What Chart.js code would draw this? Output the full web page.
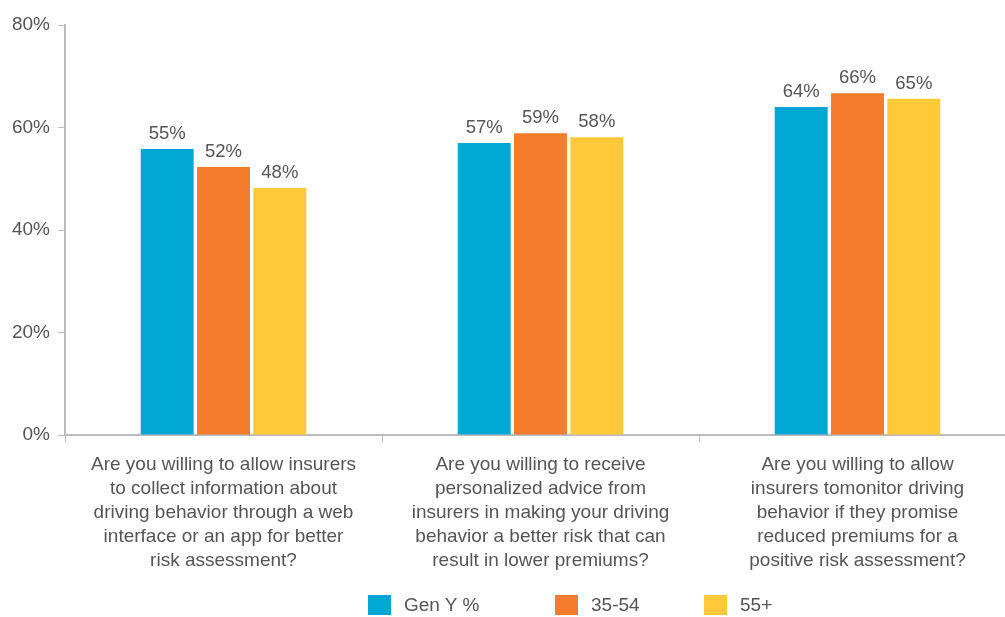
<!DOCTYPE html>
<html>
<head>
<meta charset="utf-8">
<script src="https://cdn.jsdelivr.net/npm/chart.js@4"></script>
<style>
  html, body { margin: 0; padding: 0; background: #fff; overflow: hidden; width: 1005px; height: 617px; }
  #wrap { position: absolute; left: 0; top: 0; width: 1020px; height: 617px; }
  #legend { position: absolute; top: 594px; left: 0; width: 1005px; height: 26px; font-family: "Liberation Sans", Arial, sans-serif; font-size: 19px; color: #555; }
  .item { position: absolute; top: 0; display: flex; align-items: center; }
  .sw { width: 23px; height: 20px; margin-right: 13px; }
</style>
</head>
<body>
<div id="wrap"><canvas id="c"></canvas></div>
<div id="legend"></div>
<script>
const categories = [
  ["Are you willing to allow insurers", "to collect information about", "driving behavior through a web", "interface or an app for better", "risk assessment?"],
  ["Are you willing to receive", "personalized advice from", "insurers in making your driving", "behavior a better risk that can", "result in lower premiums?"],
  ["Are you willing to allow", "insurers tomonitor driving", "behavior if they promise", "reduced premiums for a", "positive risk assessment?"]
];
const seriesNames = ["Gen Y %", "35-54", "55+"];
const genY = [55.8, 57.0, 64.0];
const age35to54 = [52.3, 58.9, 66.7];
const age55plus = [48.2, 58.1, 65.6];
const genYLabels = ["55%", "57%", "64%"];
const age35to54Labels = ["52%", "59%", "66%"];
const age55plusLabels = ["48%", "58%", "65%"];
const yTicks = [0, 20, 40, 60, 80];
const colors = ["#00A7D4", "#F47C2C", "#FFC93A"];

const valueLabels = [genYLabels, age35to54Labels, age55plusLabels];
const FONT = '"Liberation Sans", Arial, sans-serif';

const labelPlugin = {
  id: 'valueLabels',
  afterDatasetsDraw(chart) {
    const ctx = chart.ctx;
    ctx.save();
    ctx.font = '18.5px ' + FONT;
    ctx.fillStyle = '#555';
    ctx.textAlign = 'center';
    ctx.textBaseline = 'bottom';
    chart.data.datasets.forEach((ds, i) => {
      const meta = chart.getDatasetMeta(i);
      meta.data.forEach((bar, j) => {
        ctx.fillText(valueLabels[i][j], bar.x, bar.y - 6);
      });
    });
    ctx.restore();
  }
};

new Chart(document.getElementById('c'), {
  type: 'bar',
  data: {
    labels: categories,
    datasets: [
      { label: seriesNames[0], data: genY, backgroundColor: colors[0] },
      { label: seriesNames[1], data: age35to54, backgroundColor: colors[1] },
      { label: seriesNames[2], data: age55plus, backgroundColor: colors[2] }
    ]
  },
  options: {
    responsive: true,
    maintainAspectRatio: false,
    animation: false,
    layout: { padding: { top: 25, right: 4, left: 0, bottom: 0 } },
    datasets: { bar: { categoryPercentage: 0.533, barPercentage: 0.94 } },
    plugins: { legend: { display: false }, tooltip: { enabled: false } },
    scales: {
      x: {
        grid: { display: true, drawOnChartArea: false, drawTicks: true, tickLength: 7, color: '#bbb', offset: true },
        border: { display: true, color: '#bbb', width: 2 },
        ticks: { color: '#555', font: { family: FONT, size: 19, lineHeight: 1.263 }, padding: 11, maxRotation: 0, autoSkip: false },
        afterFit(scale) { scale.height = 182; }
      },
      y: {
        min: 0, max: 80,
        afterBuildTicks(scale) { scale.ticks = yTicks.map(v => ({ value: v })); },
        grid: { display: true, drawOnChartArea: false, drawTicks: true, tickLength: 7, color: '#bbb' },
        border: { display: true, color: '#bbb', width: 2 },
        ticks: { color: '#555', font: { family: FONT, size: 19 }, padding: 8, callback: v => v + '%' },
        afterFit(scale) { scale.width = 65; }
      }
    }
  },
  plugins: [labelPlugin]
});

const legendPos = [368, 555, 704];
const legend = document.getElementById('legend');
seriesNames.forEach((name, i) => {
  const it = document.createElement('div');
  it.className = 'item';
  it.style.left = legendPos[i] + 'px';
  const sw = document.createElement('div');
  sw.className = 'sw';
  sw.style.background = colors[i];
  const tx = document.createElement('span');
  tx.textContent = name;
  it.appendChild(sw); it.appendChild(tx);
  legend.appendChild(it);
});
</script>
</body>
</html>
